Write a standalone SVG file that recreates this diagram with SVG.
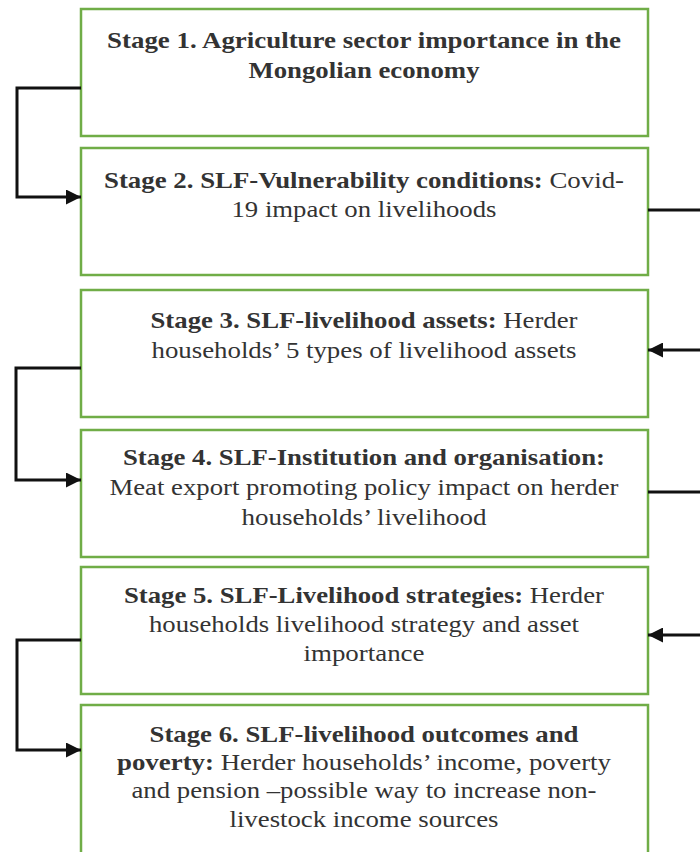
<svg xmlns="http://www.w3.org/2000/svg" width="700" height="852" viewBox="0 0 700 852">
  <style>
    .box { fill: #ffffff; stroke: #70ad47; stroke-width: 2.5; }
    .b { font-weight: bold; }
    .link { fill: none; stroke: #111111; stroke-width: 3; stroke-linejoin: miter; }
  </style>
  <defs>
    <marker id="arrow" viewBox="0 0 10 10" refX="10" refY="5" markerWidth="5" markerHeight="5" orient="auto" markerUnits="strokeWidth">
      <path d="M0,0 L10,5 L0,10 z" fill="#111111"/>
    </marker>
  </defs>

  <rect width="700" height="852" fill="#ffffff"/>

  <!-- each line is stretched to its set width so the serif face keeps its size -->
  <g fill="#333333" text-anchor="middle">
    <g id="stage1">
      <rect class="box" x="81" y="9" width="567" height="127"/>
      <text font-family="Liberation Serif" font-size="24" x="364" y="48" font-weight="bold" textLength="514" lengthAdjust="spacingAndGlyphs">Stage 1. Agriculture sector importance in the</text>
      <text font-family="Liberation Serif" font-size="24" x="364" y="78" font-weight="bold" textLength="231" lengthAdjust="spacingAndGlyphs">Mongolian economy</text>
    </g>

    <g id="stage2">
      <rect class="box" x="81" y="148" width="567" height="127"/>
      <text font-family="Liberation Serif" font-size="24" x="364" y="188" textLength="520" lengthAdjust="spacingAndGlyphs"><tspan class="b">Stage 2. SLF-Vulnerability conditions:</tspan> Covid-</text>
      <text font-family="Liberation Serif" font-size="24" x="364" y="217" textLength="265" lengthAdjust="spacingAndGlyphs">19 impact on livelihoods</text>
    </g>

    <g id="stage3">
      <rect class="box" x="81" y="290" width="567" height="127"/>
      <text font-family="Liberation Serif" font-size="24" x="364" y="328" textLength="427" lengthAdjust="spacingAndGlyphs"><tspan class="b">Stage 3. SLF-livelihood assets:</tspan> Herder</text>
      <text font-family="Liberation Serif" font-size="24" x="364" y="358" textLength="425" lengthAdjust="spacingAndGlyphs">households’ 5 types of livelihood assets</text>
    </g>

    <g id="stage4">
      <rect class="box" x="81" y="430" width="567" height="127"/>
      <text font-family="Liberation Serif" font-size="24" x="364" y="465" font-weight="bold" textLength="482" lengthAdjust="spacingAndGlyphs">Stage 4. SLF-Institution and organisation:</text>
      <text font-family="Liberation Serif" font-size="24" x="364" y="495" textLength="509" lengthAdjust="spacingAndGlyphs">Meat export promoting policy impact on herder</text>
      <text font-family="Liberation Serif" font-size="24" x="364" y="525" textLength="245" lengthAdjust="spacingAndGlyphs">households’ livelihood</text>
    </g>

    <g id="stage5">
      <rect class="box" x="81" y="567" width="567" height="127"/>
      <text font-family="Liberation Serif" font-size="24" x="364" y="603" textLength="480" lengthAdjust="spacingAndGlyphs"><tspan class="b">Stage 5. SLF-Livelihood strategies:</tspan> Herder</text>
      <text font-family="Liberation Serif" font-size="24" x="364" y="632" textLength="430" lengthAdjust="spacingAndGlyphs">households livelihood strategy and asset</text>
      <text font-family="Liberation Serif" font-size="24" x="364" y="661" textLength="121" lengthAdjust="spacingAndGlyphs">importance</text>
    </g>

    <g id="stage6">
      <rect class="box" x="81" y="705" width="567" height="170"/>
      <text font-family="Liberation Serif" font-size="24" x="364" y="742" font-weight="bold" textLength="429" lengthAdjust="spacingAndGlyphs">Stage 6. SLF-livelihood outcomes and</text>
      <text font-family="Liberation Serif" font-size="24" x="364" y="770" textLength="494" lengthAdjust="spacingAndGlyphs"><tspan class="b">poverty:</tspan> Herder households’ income, poverty</text>
      <text font-family="Liberation Serif" font-size="24" x="364" y="798" textLength="465" lengthAdjust="spacingAndGlyphs">and pension –possible way to increase non-</text>
      <text font-family="Liberation Serif" font-size="24" x="364" y="827" textLength="269" lengthAdjust="spacingAndGlyphs">livestock income sources</text>
    </g>
  </g>

  <g id="connectors">
    <!-- left brackets joining each pair of stages -->
    <path class="link" d="M81,88 H17 V197 H81" marker-end="url(#arrow)"/>
    <path class="link" d="M81,368 H16 V480 H81" marker-end="url(#arrow)"/>
    <path class="link" d="M81,640 H17 V750 H81" marker-end="url(#arrow)"/>
    <!-- right-hand links running off the edge -->
    <path class="link" d="M648,210 H702"/>
    <path class="link" d="M702,350 H648" marker-end="url(#arrow)"/>
    <path class="link" d="M648,492 H702"/>
    <path class="link" d="M702,635 H648" marker-end="url(#arrow)"/>
  </g>
</svg>
